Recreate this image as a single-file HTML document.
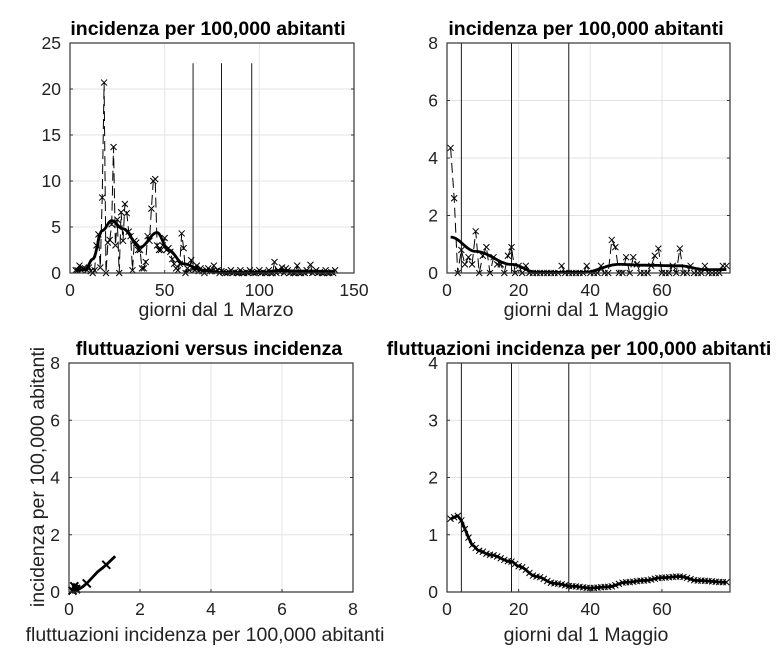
<!DOCTYPE html>
<html><head><meta charset="utf-8"><style>
html,body{margin:0;padding:0;background:#fff}
svg{display:block;font-family:"Liberation Sans",Arial,sans-serif}
</style></head><body>
<svg id="s" width="784" height="658" xmlns="http://www.w3.org/2000/svg"></svg>
<script>
const S=document.getElementById('s');let h='';
function ax(o){
 const {x0,x1,y0,y1,xmin,xmax,ymin,ymax,xt,yt}=o;
 o.X=v=>x0+(v-xmin)/(xmax-xmin)*(x1-x0);
 o.Y=v=>y1-(v-ymin)/(ymax-ymin)*(y1-y0);
 h+=`<rect x="${x0}" y="${y0}" width="${x1-x0}" height="${y1-y0}" fill="#fff"/>`;
 xt.forEach(t=>{const x=o.X(t);h+=`<line x1="${x}" y1="${y0}" x2="${x}" y2="${y1}" stroke="#e3e3e3"/><line x1="${x}" y1="${y1}" x2="${x}" y2="${y1-3}" stroke="#333"/><text x="${x}" y="${y1+23}" font-size="17.5" text-anchor="middle" fill="#222">${t}</text>`;});
 yt.forEach(t=>{const y=o.Y(t);h+=`<line x1="${x0}" y1="${y}" x2="${x1}" y2="${y}" stroke="#e3e3e3"/><line x1="${x0}" y1="${y}" x2="${x0+3}" y2="${y}" stroke="#333"/><line x1="${x1}" y1="${y}" x2="${x1-3}" y2="${y}" stroke="#333"/><text x="${x0-9}" y="${y+6}" font-size="17.5" text-anchor="end" fill="#222">${t}</text>`;});
 return o;
}
function frame(o){h+=`<rect x="${o.x0}" y="${o.y0}" width="${o.x1-o.x0}" height="${o.y1-o.y0}" fill="none" stroke="#333" stroke-width="1.2"/>`;}
function path(o,pts,st){h+=`<polyline fill="none" points="${pts.map(p=>o.X(p[0]).toFixed(1)+','+o.Y(p[1]).toFixed(1)).join(' ')}" ${st}/>`;}
function marks(o,pts,sz,w){pts.forEach(p=>{const x=o.X(p[0]),y=o.Y(p[1]);h+=`<path d="M${x-sz},${y-sz}L${x+sz},${y+sz}M${x-sz},${y+sz}L${x+sz},${y-sz}" stroke="#000" stroke-width="${w||1}"/>`;});}
function interp(k,x){for(let i=0;i<k.length-1;i++){if(x>=k[i][0]&&x<=k[i+1][0]){const t=(x-k[i][0])/(k[i+1][0]-k[i][0]);const s=(1-Math.cos(Math.PI*t))/2;return k[i][1]+(k[i+1][1]-k[i][1])*s;}}return k[k.length-1][1];}
function smooth(k,a,b){const r=[];for(let x=a;x<=b;x+=0.5)r.push([x,interp(k,x)]);return r;}
function title(x,y,t){h+=`<text x="${x}" y="${y}" font-size="19.5" font-weight="bold" text-anchor="middle" fill="#000">${t}</text>`;}
function lab(x,y,t){h+=`<text x="${x}" y="${y}" font-size="19.5" text-anchor="middle" fill="#222">${t}</text>`;}

// Top-left
let A=ax({x0:70,x1:354,y0:43,y1:273,xmin:0,xmax:150,ymin:0,ymax:25,xt:[0,50,100,150],yt:[0,5,10,15,20,25]});
let r1={3:0.3,4:0.3,5:0.8,6:0.3,7:0.5,8:0.5,9:0.3,10:0.6,11:0.2,12:0,13:0.3,14:3,15:4.2,16:0.6,17:8.2,18:20.7,19:0,20:3.3,21:3.6,22:5.3,23:13.7,24:3,25:5.8,26:0,27:6.6,28:3.5,29:7.5,30:6.5,31:4.5,32:4,33:0.3,34:3.5,35:3.3,36:2.5,37:2.5,38:0.5,39:0.5,40:1.2,41:4,42:3.5,43:7,44:10,45:10.2,46:3,47:2.5,48:2.5,49:3,50:3.8,51:2.5,52:2.7,53:2.3,54:1.5,55:1,56:0.5,57:0.3,58:1,59:4.3,60:2.7,61:0,62:0.5,63:0.3,64:1.4,65:0.5,66:0.3,67:0.8,68:0.2,69:0.5,70:0.2,71:0,72:0.3,73:0.5,74:0.2,75:0.2,76:0.8,77:0.2,78:0.3,79:0,80:0.2,108:1.2,112:0.6,114:0.5,120:0.8,127:0.9};
let p1=[];for(let d=3;d<=140;d++)p1.push([d,r1[d]!==undefined?r1[d]:((d*7)%5===0?0.3:(d%3===0?0.1:0))]);
path(A,p1,'stroke="#000" stroke-width="1" stroke-dasharray="10,5"');
marks(A,p1,3);
path(A,smooth([[3,0.3],[8,0.35],[12,1.5],[17,4.6],[22,5.7],[28,4.8],[37,2.8],[46,4.4],[52,2.5],[60,1],[70,0.3],[80,0.05],[90,0],[100,0.05],[110,0.25],[125,0.2],[140,0.15]],3,140),'stroke="#000" stroke-width="2.8"');
[65,80,96].forEach(v=>h+=`<line x1="${A.X(v)}" y1="${A.Y(22.8)}" x2="${A.X(v)}" y2="${A.y1}" stroke="#000" stroke-width="0.9"/>`);
frame(A);title(208,35,'incidenza per 100,000 abitanti');lab(216,316,'giorni dal 1 Marzo');

// Top-right
let B=ax({x0:447,x1:730,y0:43,y1:273,xmin:0,xmax:79,ymin:0,ymax:8,xt:[0,20,40,60],yt:[0,2,4,6,8]});
let r2={1:4.35,2:2.6,3:0,4:0.8,5:0.3,6:0.55,7:0.3,8:1.45,9:0,10:0.6,11:0.9,12:0,13:0.55,14:0.3,15:0.3,16:0,17:0.6,18:0.9,19:0,20:0.25,21:0,22:0.25,32:0.25,39:0.25,43:0.25,46:1.15,47:0.9,50:0.55,52:0.55,53:0.3,57:0.25,58:0.6,59:0.85,63:0.25,65:0.85,68:0.25,72:0.25,77:0.25,78:0.25};
let p2=[];for(let d=1;d<=78;d++)p2.push([d,r2[d]||0]);
path(B,p2,'stroke="#000" stroke-width="1" stroke-dasharray="10,5"');marks(B,p2,3);
path(B,smooth([[1,1.25],[8,0.75],[18,0.3],[25,0.02],[38,0.02],[48,0.3],[55,0.27],[65,0.25],[72,0.12],[78,0.12]],1,78),'stroke="#000" stroke-width="2.8"');
[4,18,34].forEach(v=>h+=`<line x1="${B.X(v)}" y1="${B.y0}" x2="${B.X(v)}" y2="${B.y1}" stroke="#000" stroke-width="0.9"/>`);
frame(B);title(586,35,'incidenza per 100,000 abitanti');lab(586,316,'giorni dal 1 Maggio');

// Bottom-left
let C=ax({x0:69,x1:353,y0:363,y1:592,xmin:0,xmax:8,ymin:0,ymax:8,xt:[0,2,4,6,8],yt:[0,2,4,6,8]});
path(C,[[0.1,0.05],[0.15,0.25],[0.25,0.2],[0.2,0.05],[0.35,0.15],[0.5,0.3],[0.8,0.7],[1.05,0.95],[1.3,1.25]],'stroke="#000" stroke-width="2.8"');
marks(C,[[0.1,0.05],[0.15,0.2],[0.2,0.1],[0.5,0.3],[1.05,0.95]],4,2);
frame(C);title(209,355,'fluttuazioni versus incidenza');lab(205,641,'fluttuazioni incidenza per 100,000 abitanti');
h+=`<text transform="translate(44,477) rotate(-90)" font-size="19.5" text-anchor="middle" fill="#222">incidenza per 100,000 abitanti</text>`;

// Bottom-right
let D=ax({x0:447,x1:730,y0:363,y1:592,xmin:0,xmax:79,ymin:0,ymax:4,xt:[0,20,40,60],yt:[0,1,2,3,4]});
let k4=[[1,1.28],[3,1.33],[4,1.25],[5,1.1],[6,0.95],[7,0.82],[9,0.72],[12,0.65],[18,0.53],[20,0.45],[25,0.27],[30,0.15],[35,0.1],[40,0.07],[45,0.09],[50,0.17],[55,0.2],[60,0.25],[65,0.27],[70,0.2],[78,0.17]];
let p4=[];for(let d=1;d<=78;d++)p4.push([d,interp(k4,d)]);
path(D,smooth(k4,1,78),'stroke="#000" stroke-width="2.8"');marks(D,p4,3);
[4,18,34].forEach(v=>h+=`<line x1="${D.X(v)}" y1="${D.y0}" x2="${D.X(v)}" y2="${D.y1}" stroke="#000" stroke-width="0.9"/>`);
frame(D);title(579,355,'fluttuazioni incidenza per 100,000 abitanti');lab(586,641,'giorni dal 1 Maggio');
S.innerHTML=h;
</script>
</body></html>
